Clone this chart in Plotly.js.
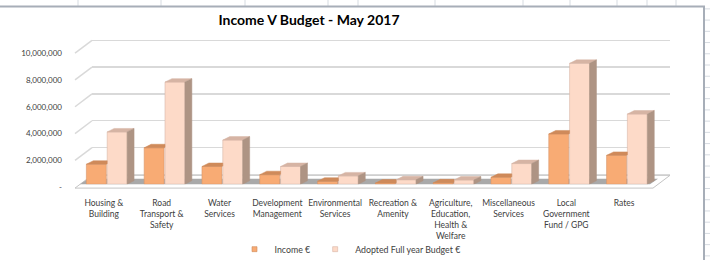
<!DOCTYPE html>
<html>
<head>
<meta charset="utf-8">
<script src="https://cdn.plot.ly/plotly-3.0.1.min.js"></script>
<style>html,body{margin:0;padding:0;background:#fff;}#chart{width:710px;height:264px;}</style>
</head>
<body>
<div id="chart"></div>
<script>
// ---- data ----
const categories = ['Housing & Building', 'Road Transport & Safety', 'Water Services', 'Development Management', 'Environmental Services', 'Recreation & Amenity', 'Agriculture, Education, Health & Welfare', 'Miscellaneous Services', 'Local Government Fund / GPG', 'Rates'];
const categoryLabels = ['Housing &<br>Building', 'Road<br>Transport &<br>Safety', 'Water<br>Services', 'Development<br>Management', 'Environmental<br>Services', 'Recreation &<br>Amenity', 'Agriculture,<br>Education,<br>Health &<br>Welfare', 'Miscellaneous<br>Services', 'Local<br>Government<br>Fund / GPG', 'Rates'];
const incomeValues = [1490000, 2720000, 1320000, 710000, 220000, 80000, 100000, 510000, 3750000, 2150000];
const budgetValues = [3900000, 7620000, 3290000, 1320000, 620000, 330000, 310000, 1540000, 9020000, 5240000];
const yTickVals = [0, 2000000, 4000000, 6000000, 8000000, 10000000];
const yTickText = ['-', '2,000,000', '4,000,000', '6,000,000', '8,000,000', '10,000,000'];
const seriesNames = ['Income €', 'Adopted Full year Budget €'];

// ---- geometry helpers ----
const W = 710, H = 264;
const px = v => v / W;
const py = v => 1 - v / H;
const idx = categories.map((_, i) => i);

const FONT = 'Lato, "Open Sans", sans-serif';
const incOff = -0.355, budOff = 0.005, bw = 0.345;
const dx = 0.12, dy = 260000;

const incCol = {front: '#F8AB74', top: '#CF8A5A', side: '#B4805A', line: '#D8956A'};
const budCol = {front: '#FDDAC8', top: '#D6B4A4', side: '#AE9484', line: '#D9B9A9'};

// polygons for 3D faces computed from the data
const incTopX = [], incTopY = [], budTopX = [], budTopY = [], budSideX = [], budSideY = [];
idx.forEach(i => {
  const v = incomeValues[i];
  const x0 = i + incOff, x1 = x0 + bw, xb = i + budOff;
  const f = Math.min(1, (xb - x1) / dx);
  incTopX.push(x0, x0 + dx, xb, xb, x1, x0, null);
  incTopY.push(v, v + dy, v + dy, v + dy * f, v, v, null);
  const b = budgetValues[i];
  const bx0 = xb, bx1 = xb + bw;
  budTopX.push(bx0, bx0 + dx, bx1 + dx, bx1, bx0, null);
  budTopY.push(b, b + dy, b + dy, b, b, null);
  budSideX.push(bx1, bx1, bx1 + dx, bx1 + dx, bx1, null);
  budSideY.push(0, b, b + dy, dy, 0, null);
});

const traces = [
  // keeps the back-wall grid subplot alive
  {type: 'scatter', mode: 'none', x: idx, y: budgetValues, xaxis: 'x', yaxis: 'y', showlegend: false, hoverinfo: 'skip'},
  {type: 'bar', name: seriesNames[0], x: idx, y: incomeValues, offset: incOff, width: bw, showlegend: false,
   xaxis: 'x2', yaxis: 'y2', marker: {color: incCol.front, line: {color: incCol.line, width: 0.6}}, hoverinfo: 'y'},
  {type: 'bar', name: seriesNames[1], x: idx, y: budgetValues, offset: budOff, width: bw, showlegend: false,
   xaxis: 'x2', yaxis: 'y2', marker: {color: budCol.front, line: {color: budCol.line, width: 0.6}}, hoverinfo: 'y'},
  {type: 'scatter', mode: 'lines', x: incTopX, y: incTopY, fill: 'toself', fillcolor: incCol.top,
   line: {color: incCol.top, width: 0.5}, xaxis: 'x2', yaxis: 'y2', showlegend: false, hoverinfo: 'skip'},
  {type: 'scatter', mode: 'lines', x: budTopX, y: budTopY, fill: 'toself', fillcolor: budCol.top,
   line: {color: budCol.top, width: 0.5}, xaxis: 'x2', yaxis: 'y2', showlegend: false, hoverinfo: 'skip'},
  {type: 'scatter', mode: 'lines', x: budSideX, y: budSideY, fill: 'toself', fillcolor: budCol.side,
   line: {color: budCol.side, width: 0.5}, xaxis: 'x2', yaxis: 'y2', showlegend: false, hoverinfo: 'skip'},
  // keeps the label axes alive
  {type: 'scatter', mode: 'none', x: idx, y: incomeValues, xaxis: 'x3', yaxis: 'y3', showlegend: false, hoverinfo: 'skip'},
  // legend keys (small square swatches like the original)
  {type: 'scatter', mode: 'markers', name: seriesNames[0], x: [null], y: [null], xaxis: 'x3', yaxis: 'y3',
   marker: {symbol: 'square', size: 5, color: incCol.front, line: {color: incCol.top, width: 0.6}}},
  {type: 'scatter', mode: 'markers', name: seriesNames[1], x: [null], y: [null], xaxis: 'x3', yaxis: 'y3',
   marker: {symbol: 'square', size: 5, color: budCol.front, line: {color: budCol.top, width: 0.6}}}
];

// decorative shapes (sheet grid, chart border, 3D floor and side wall)
const shapes = [];
[78, 161, 245, 328, 358, 435, 523, 570, 617, 647, 676].forEach(x => {
  shapes.push({type: 'line', xref: 'paper', yref: 'paper', x0: px(x), x1: px(x), y0: py(0), y1: py(6), line: {color: '#d6dbe1', width: 1}});
});
for (let y = 9; y < H; y += 11.4) {
  shapes.push({type: 'line', xref: 'paper', yref: 'paper', x0: px(705), x1: px(710), y0: py(y), y1: py(y), line: {color: '#d6dbe1', width: 1}});
}
shapes.push({type: 'line', xref: 'paper', yref: 'paper', x0: 0, x1: px(705), y0: py(6.5), y1: py(6.5), line: {color: '#a7aeb8', width: 2}});
shapes.push({type: 'line', xref: 'paper', yref: 'paper', x0: px(704), x1: px(704), y0: py(6), y1: 0, line: {color: '#a7aeb8', width: 2}});
// floor
shapes.push({type: 'path', xref: 'paper', yref: 'paper', layer: 'below',
  path: `M${px(75)},${py(191)} L${px(653)},${py(191)} L${px(670)},${py(178)} L${px(92)},${py(178)} Z`,
  fillcolor: '#ffffff', line: {color: '#c4c4c4', width: 1}});
shapes.push({type: 'path', xref: 'paper', yref: 'paper', layer: 'below',
  path: `M${px(80)},${py(187)} L${px(650)},${py(187)} L${px(658)},${py(181.5)} L${px(88)},${py(181.5)} Z`,
  fillcolor: '#a9a9a9', line: {width: 0}});
// side wall diagonals at each gridline
yTickVals.slice(1).forEach(v => {
  const fy = 190 - v / 1e7 * 136;
  shapes.push({type: 'line', xref: 'paper', yref: 'paper', x0: px(75), y0: py(fy), x1: px(92), y1: py(fy - 13), layer: 'below',
    line: {color: '#d9d9d9', width: 1.5}});
});

const layout = {
  width: W, height: H,
  margin: {l: 0, r: 0, t: 0, b: 0},
  paper_bgcolor: '#ffffff', plot_bgcolor: 'rgba(0,0,0,0)',
  font: {family: FONT, color: '#404040', size: 9},
  title: {text: '<b>Income V Budget - May 2017</b>', font: {family: FONT, size: 14, color: '#000000'},
    x: px(309), xanchor: 'center', xref: 'paper', y: py(20), yanchor: 'middle', yref: 'paper'},
  showlegend: true,
  legend: {orientation: 'h', x: px(350), xanchor: 'center', y: py(253), yanchor: 'middle',
    font: {family: FONT, size: 8.8, color: '#404040'}, itemwidth: 30, bgcolor: 'rgba(0,0,0,0)', traceorder: 'normal'},
  // back wall grid (range slightly past 10M so the top gridline is drawn)
  xaxis: {domain: [px(92), px(670)], range: [-0.5, 9.5], showgrid: false, zeroline: false, showticklabels: false, ticks: '', anchor: 'y', fixedrange: true},
  yaxis: {domain: [py(177 + 0.2 * 13.6), py(41 - 0.2 * 13.6)], range: [-200000, 10200000], tickvals: yTickVals, showgrid: true, gridcolor: '#d9d9d9', gridwidth: 1.5,
    zeroline: false, showticklabels: false, ticks: '', anchor: 'x', fixedrange: true},
  // bars
  xaxis2: {domain: [px(78), px(656)], range: [-0.5, 9.5], showgrid: false, zeroline: false, showticklabels: false, anchor: 'y2', fixedrange: true},
  yaxis2: {domain: [py(187), py(51)], range: [0, 10000000], showgrid: false, zeroline: false, showticklabels: false, anchor: 'x2', fixedrange: true},
  // labels (front edge)
  xaxis3: {domain: [px(75), px(653)], range: [-0.5, 9.5], tickvals: idx, ticktext: categoryLabels, showgrid: false, zeroline: false,
    showline: false, ticks: '', ticklabelstandoff: 9, tickfont: {family: FONT, size: 8.5, color: '#404040'}, anchor: 'y3', tickangle: 0, fixedrange: true},
  yaxis3: {domain: [py(190), py(54)], range: [0, 10000000], tickvals: yTickVals, ticktext: yTickText, showgrid: false, zeroline: false,
    showline: false, ticks: '', ticklabelstandoff: 12, tickfont: {family: FONT, size: 8, color: '#404040'}, anchor: 'x3', fixedrange: true},
  shapes: shapes,
  bargap: 0.3
};

Plotly.newPlot('chart', traces, layout, {displayModeBar: false, staticPlot: true});
</script>
</body>
</html>
